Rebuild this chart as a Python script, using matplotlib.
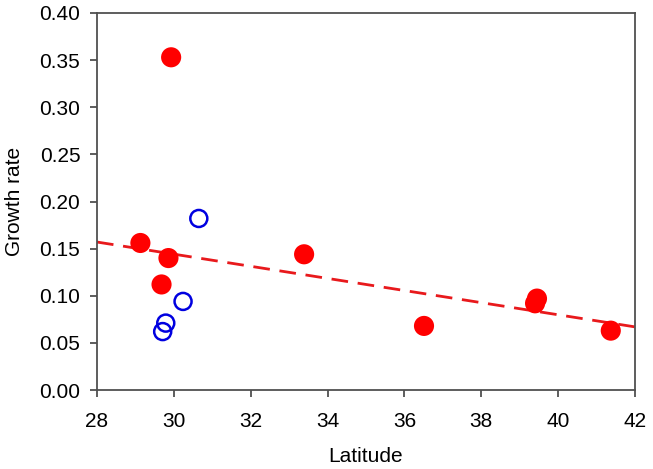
import matplotlib
matplotlib.use('Agg')
import matplotlib.pyplot as plt
import numpy as np

plt.rcParams['font.family'] = ['Liberation Sans', 'DejaVu Sans']

# filled red points
red_lat = [29.93, 29.13, 29.86, 29.68, 33.39, 36.51, 39.45, 39.40, 41.37]
red_growth = [0.353, 0.156, 0.140, 0.112, 0.144, 0.068, 0.097, 0.092, 0.063]

# open blue points
blue_lat = [30.65, 30.24, 29.79, 29.71]
blue_growth = [0.182, 0.094, 0.071, 0.062]

# dashed trend line
fit_slope = -0.00643
fit_intercept = 0.157 + 0.00643 * 28

fig = plt.figure(figsize=(6.53, 4.69), dpi=100)
ax = fig.add_axes([0.1485, 0.1684, 0.8239, 0.8039])

xs = np.array([28, 42])
ax.plot(xs, fit_intercept + fit_slope * xs, color='#e8191c', lw=2, dashes=(6, 3.5), zorder=1)

ax.scatter(red_lat, red_growth, s=210, color='#ff0000', edgecolors='none', zorder=3)
ax.scatter(blue_lat, blue_growth, s=150, facecolors='none', edgecolors='#0000e0', linewidths=1.8, zorder=2)

ax.set_xlim(28, 42)
ax.set_ylim(0, 0.40)
ax.set_xticks(np.arange(28, 43, 2))
ax.set_yticks(np.arange(0, 0.41, 0.05))
ax.set_yticklabels([f'{v:.2f}' for v in np.arange(0, 0.41, 0.05)])

for sp in ax.spines.values():
    sp.set_color('#505050')
    sp.set_linewidth(1.3)
ax.tick_params(direction='out', length=5, width=1.3, color='#505050', labelsize=15)
ax.tick_params(axis='x', pad=11)
ax.tick_params(axis='y', pad=7)

ax.set_xlabel('Latitude', fontsize=15, labelpad=11)
ax.set_ylabel('Growth rate', fontsize=15, labelpad=11)

fig.savefig('out.png', dpi=100)
